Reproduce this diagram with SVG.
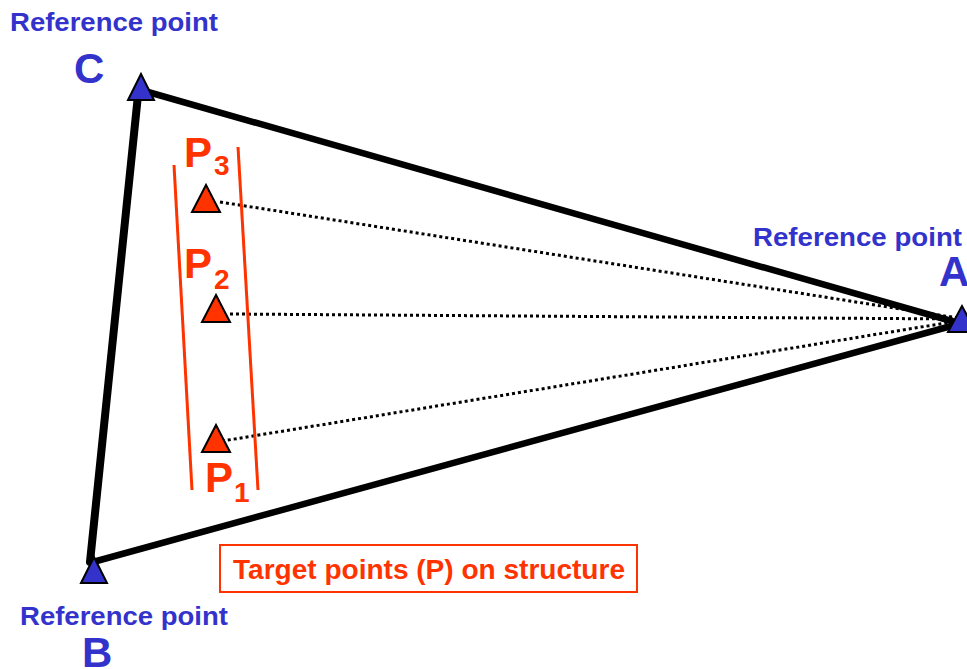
<svg xmlns="http://www.w3.org/2000/svg" width="967" height="669" viewBox="0 0 967 669">
<style>
.ref{font-family:"Liberation Sans",Arial,sans-serif;font-weight:bold;fill:#3333cc;font-size:26px}
.big{font-family:"Liberation Sans",Arial,sans-serif;font-weight:bold;fill:#3333cc;font-size:42px}
.pl{font-family:"Liberation Sans",Arial,sans-serif;font-weight:bold;fill:#ff3300;font-size:42px}
.ps{font-family:"Liberation Sans",Arial,sans-serif;font-weight:bold;fill:#ff3300;font-size:28px}
.edge{stroke:#000;stroke-width:6.5;fill:none;stroke-linecap:round}
.dot{stroke:#000;stroke-width:3;fill:none;stroke-dasharray:3 3}
.rl{stroke:#ff3300;stroke-width:3;fill:none}
.bt{fill:#3333cc;stroke:#000;stroke-width:2;stroke-linejoin:miter}
.rt{fill:#ff3300;stroke:#000;stroke-width:2;stroke-linejoin:miter}
</style>
<rect width="967" height="669" fill="#fff"/>
<g id="connectors">
<line class="edge" x1="141" y1="90" x2="955" y2="322"/>
<line class="edge" x1="138" y1="95" x2="90" y2="562" style="stroke-width:8"/>
<line class="edge" x1="93" y1="562" x2="955" y2="325"/>
<line class="dot" x1="220" y1="202" x2="958" y2="318"/>
<line class="dot" x1="230" y1="314" x2="958" y2="319"/>
<line class="dot" x1="210" y1="443" x2="958" y2="321"/>
</g>
<g id="structure">
<line class="rl" x1="174" y1="165" x2="192" y2="490"/>
<line class="rl" x1="238" y1="147" x2="258" y2="490"/>
</g>
<g id="node-C">
<polygon class="bt" points="141,74 128,100 154,100"/>
<text class="ref" x="10" y="31" textLength="208" lengthAdjust="spacingAndGlyphs">Reference point</text>
<text class="big" x="74" y="83">C</text>
</g>
<g id="node-A">
<polygon class="bt" points="962,306 948,332 976,332"/>
<text class="ref" x="753" y="246" textLength="209" lengthAdjust="spacingAndGlyphs">Reference point</text>
<text class="big" x="939" y="286">A</text>
</g>
<g id="node-B">
<polygon class="bt" points="94,557 81,583 107,583"/>
<text class="ref" x="20" y="625" textLength="208" lengthAdjust="spacingAndGlyphs">Reference point</text>
<text class="big" x="82" y="667">B</text>
</g>
<g id="node-P3">
<polygon class="rt" points="206,185 192,212 220,212"/>
<text class="pl" x="184" y="167">P</text>
<text class="ps" x="214" y="175">3</text>
</g>
<g id="node-P2">
<polygon class="rt" points="216,295 202,322 230,322"/>
<text class="pl" x="184" y="278">P</text>
<text class="ps" x="214" y="289">2</text>
</g>
<g id="node-P1">
<polygon class="rt" points="216,425 202,452 230,452"/>
<text class="pl" x="205" y="492">P</text>
<text class="ps" x="234" y="502">1</text>
</g>
<g id="legend">
<rect x="220" y="545" width="417" height="47" fill="none" stroke="#ff3300" stroke-width="2"/>
<text x="233" y="579" textLength="392" lengthAdjust="spacingAndGlyphs" style="font-family:'Liberation Sans',Arial,sans-serif;font-weight:bold;fill:#ff3300;font-size:28px">Target points (P) on structure</text>
</g>
</svg>
